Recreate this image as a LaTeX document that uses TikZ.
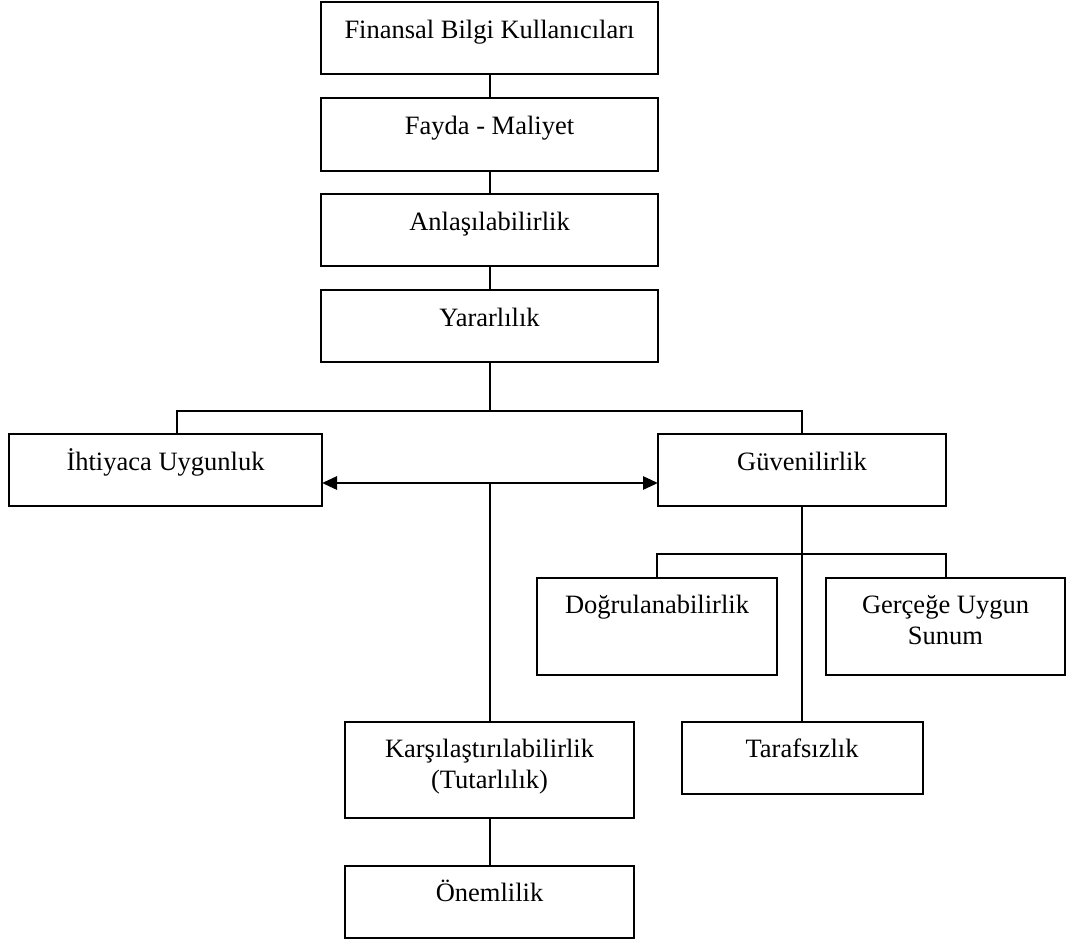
\documentclass[tikz,border=0pt]{standalone}
\usepackage{fontspec}
\setmainfont{Liberation Serif}
\usetikzlibrary{arrows.meta}
\begin{document}
\begin{tikzpicture}[x=1pt,y=-1pt,
  box/.style={draw, line width=2pt, inner sep=0pt, outer sep=0pt},
  txt/.style={anchor=base, yshift=-36pt, inner sep=0pt, align=center,
    font=\fontsize{26.5}{31.5}\selectfont},
  two/.style={yshift=-30.5pt},
  conn/.style={line width=2pt},
  dbl/.style={line width=2.8pt, {Triangle[length=15pt,width=13pt]}-{Triangle[length=15pt,width=13pt]}}]
\useasboundingbox (0,0) rectangle (1070,940);
\node[box, minimum width=337pt, minimum height=72pt, label={[txt]north:Finansal Bilgi Kullanıcıları}] (b1) at (489.5,38) {};
\node[box, minimum width=337pt, minimum height=73pt, label={[txt]north:Fayda - Maliyet}] (b2) at (489.5,134.5) {};
\node[box, minimum width=337pt, minimum height=72pt, label={[txt]north:Anlaşılabilirlik}] (b3) at (489.5,230) {};
\node[box, minimum width=337pt, minimum height=72pt, label={[txt]north:Yararlılık}] (b4) at (489.5,326) {};
\node[box, minimum width=313pt, minimum height=72pt, label={[txt]north:İhtiyaca Uygunluk}] (ih) at (165.5,470) {};
\node[box, minimum width=288pt, minimum height=72pt, label={[txt]north:Güvenilirlik}] (gu) at (802,470) {};
\node[box, minimum width=240pt, minimum height=97pt, label={[txt,yshift=1pt]north:Doğrulanabilirlik}] (dog) at (657,626.5) {};
\node[box, minimum width=239pt, minimum height=97pt, label={[txt,two]north:Gerçeğe Uygun\\Sunum}] (ger) at (945.5,626.5) {};
\node[box, minimum width=289pt, minimum height=96pt, label={[txt,two]north:Karşılaştırılabilirlik\\(Tutarlılık)}] (kar) at (489.5,770) {};
\node[box, minimum width=241pt, minimum height=72pt, label={[txt,yshift=1pt]north:Tarafsızlık}] (tar) at (802,758) {};
\node[box, minimum width=289pt, minimum height=72pt, label={[txt,yshift=1pt]north:Önemlilik}] (one) at (489.5,902) {};
% coordinates
\coordinate (j1) at (489.5,411);
\coordinate (jl) at (177,411);
\coordinate (jr) at (802,411);
\coordinate (ar) at (489.5,483);
\coordinate (kl) at (657,554);
\coordinate (kr) at (945.5,554);
% connectors
\draw[conn] (b1) -- (b2);
\draw[conn] (b2) -- (b3);
\draw[conn] (b3) -- (b4);
\draw[conn] (b4.south) -- (j1);
\draw[conn] (jl |- ih.north) -- (jl) -- (jr) -- (gu.north);
\draw[dbl] (ih.east |- ar) -- (gu.west |- ar);
\draw[conn] (ar) -- (kar.north);
\draw[conn] (kar) -- (one);
\draw[conn] (gu.south) -- (tar.north);
\draw[conn] (dog.north) -- (kl) -- (kr) -- (ger.north);
\end{tikzpicture}
\end{document}
